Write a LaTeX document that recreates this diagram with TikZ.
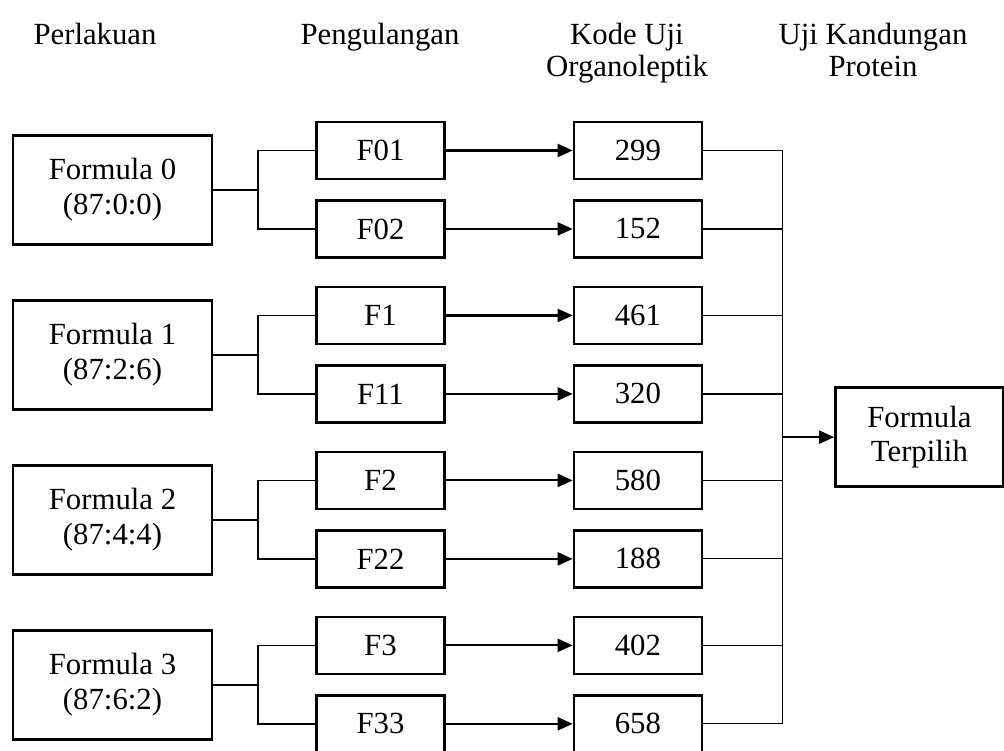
\documentclass[tikz,border=0pt]{standalone}
\usepackage{fontspec}
\setmainfont{Liberation Serif}
\usetikzlibrary{arrows.meta, positioning, calc}
\tikzset{
  treat/.style={rectangle, draw=black, line width=1.4pt, inner sep=0pt,
                minimum width=3.98cm, minimum height=2.18cm, align=center,
                font=\fontsize{17.5}{19.8}\selectfont},
  rep/.style={rectangle, draw=black, line width=1.4pt, inner sep=0pt,
              minimum width=2.56cm, minimum height=1.14cm, align=center,
              font=\fontsize{17.5}{19.8}\selectfont},
  code/.style={rep},
  result/.style={rectangle, draw=black, line width=1.4pt, inner sep=0pt,
                 minimum width=3.36cm, minimum height=1.98cm, align=center,
                 font=\fontsize{17.5}{19.8}\selectfont},
  head/.style={anchor=north, inner sep=0pt, align=center,
               font=\fontsize{17.5}{18.2}\selectfont},
  link/.style={line width=0.9pt},
  bus/.style={line width=0.7pt},
  arrow/.style={-{Triangle[length=0.3cm,width=0.26cm]}, line width=1.2pt},
}
\begin{document}
\begin{tikzpicture}[node distance=1.07cm and 2.04cm]
  \useasboundingbox (0,0) rectangle (20.08,-15.02);

  % Column headers
  \node[head] (hA) at (1.9,-0.46)   {Perlakuan};
  \node[head] (hB) at (7.6,-0.46)   {Pengulangan};
  \node[head] (hC) at (12.54,-0.46) {Kode Uji\\Organoleptik};
  \node[head] (hD) at (17.46,-0.46) {Uji Kandungan\\Protein};

  % Treatments
  \node[treat] (f0) at (2.25,-3.8) {Formula 0\\(87:0:0)};
  \node[treat, below=of f0] (f1) {Formula 1\\(87:2:6)};
  \node[treat, below=of f1] (f2) {Formula 2\\(87:4:4)};
  \node[treat, below=of f2] (f3) {Formula 3\\(87:6:2)};

  % Repetitions
  \node[rep, right=of f0, yshift=0.79cm] (r01) {F01};
  \node[rep, below=0.38cm of r01] (r02) {F02};
  \node[rep, right=of f1, yshift=0.79cm] (r1)  {F1};
  \node[rep, below=0.38cm of r1]  (r11) {F11};
  \node[rep, right=of f2, yshift=0.79cm] (r2)  {F2};
  \node[rep, below=0.38cm of r2]  (r22) {F22};
  \node[rep, right=of f3, yshift=0.79cm] (r3)  {F3};
  \node[rep, below=0.38cm of r3]  (r33) {F33};

  % Sample codes
  \node[code, right=2.54cm of r01] (c01) {299};
  \node[code, right=2.54cm of r02] (c02) {152};
  \node[code, right=2.54cm of r1]  (c1)  {461};
  \node[code, right=2.54cm of r11] (c11) {320};
  \node[code, right=2.54cm of r2]  (c2)  {580};
  \node[code, right=2.54cm of r22] (c22) {188};
  \node[code, right=2.54cm of r3]  (c3)  {402};
  \node[code, right=2.54cm of r33] (c33) {658};

  % Selected formula
  \coordinate (mid) at ($(c01.east)!0.5!(c33.east)$);
  \node[result, right=2.62cm of mid] (pick) {Formula\\Terpilih};

  % Brackets: treatment to repetitions
  \draw[link] (f0.east) -- ++(0.9,0) coordinate (j0) |- (r01.west);
  \draw[link] (j0) |- (r02.west);
  \draw[link] (f1.east) -- ++(0.9,0) coordinate (j1) |- (r1.west);
  \draw[link] (j1) |- (r11.west);
  \draw[link] (f2.east) -- ++(0.9,0) coordinate (j2) |- (r2.west);
  \draw[link] (j2) |- (r22.west);
  \draw[link] (f3.east) -- ++(0.9,0) coordinate (j3) |- (r3.west);
  \draw[link] (j3) |- (r33.west);

  % Arrows: repetitions to codes
  \draw[arrow] (r01) -- (c01);
  \draw[arrow] (r02) -- (c02);
  \draw[arrow] (r1)  -- (c1);
  \draw[arrow] (r11) -- (c11);
  \draw[arrow] (r2)  -- (c2);
  \draw[arrow] (r22) -- (c22);
  \draw[arrow] (r3)  -- (c3);
  \draw[arrow] (r33) -- (c33);

  % Collector to selected formula
  \coordinate (top) at ($(c01.east)+(1.58,0)$);
  \draw[bus] (top) -- (top |- c33.east);
  \foreach \c in {c01,c02,c1,c11,c2,c22,c3,c33}
    \draw[bus] (\c.east) -- (\c.east -| top);
  \draw[arrow] (pick.west -| top) -- (pick.west);

\end{tikzpicture}
\end{document}
